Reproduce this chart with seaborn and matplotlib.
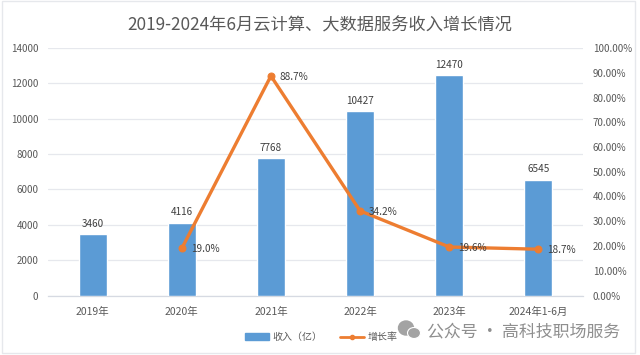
import matplotlib
matplotlib.use("Agg")
import matplotlib.pyplot as plt
from matplotlib.lines import Line2D
from matplotlib.patches import Patch, Ellipse, Rectangle
import seaborn as sns
import pandas as pd
import numpy as np

sns.set_style("white")
plt.rcParams['font.family'] = ['Noto Sans CJK SC', 'DejaVu Sans']

categories = ["2019年", "2020年", "2021年", "2022年", "2023年", "2024年1-6月"]
revenue = [3460, 4116, 7768, 10427, 12470, 6545]
growth = [np.nan, 19.0, 88.7, 34.2, 19.6, 18.7]
title = "2019-2024年6月云计算、大数据服务收入增长情况"
bar_name = "收入（亿）"
line_name = "增长率"
watermark = "公众号 · 高科技职场服务"

BLUE = "#5b9bd5"
ORANGE = "#ed7d31"
TXT = "#595959"
W, H = 640, 355

df = pd.DataFrame({"cat": categories, "rev": revenue, "g": growth})

fig = plt.figure(figsize=(6.4, 3.55), dpi=100, facecolor="white")
ax = fig.add_axes([48/W, 1-295.5/H, (583-48)/W, (295.5-48)/H])
ax.set_facecolor("white")
sns.barplot(data=df, x="cat", y="rev", color=BLUE, saturation=1, width=0.315, ax=ax, zorder=3)
ax.set_xlim(-0.5, 5.5)
ax.set_ylim(0, 14000)
ax.set_yticks(range(0, 14001, 2000))
ax.set_xlabel("")
ax.set_ylabel("")
ax.grid(axis="y", color="#e6e8ed", lw=0.9, zorder=0)
ax.tick_params(axis="y", length=0, labelsize=7, labelcolor=TXT, pad=7)
ax.tick_params(axis="x", length=0, labelsize=7.5, labelcolor=TXT, pad=8.5)
for s in ["top", "right", "left"]:
    ax.spines[s].set_visible(False)
ax.spines["bottom"].set_color("#d6dae2")
ax.spines["bottom"].set_linewidth(0.9)
for i, v in enumerate(revenue):
    ax.text(i, v + 300, str(v), ha="center", va="bottom", fontsize=7.2, color="#404040", zorder=6)

ax2 = ax.twinx()
sns.lineplot(data=df, x="cat", y="g", color=ORANGE, lw=2.4, marker="o", ms=5, mec=ORANGE, ax=ax2, zorder=5)
ax2.set_ylim(0, 100)
ax2.set_yticks(range(0, 101, 10))
ax2.set_yticklabels([f"{v}.00%" for v in range(0, 101, 10)])
ax2.set_xlabel("")
ax2.set_ylabel("")
ax2.grid(False)
ax2.tick_params(axis="y", length=0, labelsize=7, labelcolor=TXT, pad=7)
for s in ax2.spines.values():
    s.set_visible(False)
for i, v in enumerate(growth):
    if not np.isnan(v):
        ax2.annotate(f"{v}%", (i, v), xytext=(6.5, -0.5), textcoords="offset points", ha="left", va="center", fontsize=7.2, color="#404040", zorder=7)

fig.text(0.5, 1-25/H, title, ha="center", va="center", fontsize=12.4, color=TXT)

handles = [Patch(color=BLUE, label=bar_name),
           Line2D([], [], color=ORANGE, lw=2, marker="o", ms=3, label=line_name)]
fig.legend(handles=handles, loc="center", bbox_to_anchor=(321/W, 1-337/H), ncol=2, frameon=False,
           fontsize=7.2, labelcolor=TXT, handlelength=2.4, handleheight=0.7, handletextpad=0.35,
           columnspacing=1.8, borderpad=0)

# faint frame of the source picture
fig.add_artist(Rectangle((2/W, 1-353/H), 633/W, 352/H, transform=fig.transFigure, fill=False, ec="#e6e8ec", lw=1))

# watermark
GREY = "#a3a3a3"
fig.add_artist(Ellipse((406/W, 1-328/H), 15/W, 14/H, transform=fig.transFigure, color=GREY, zorder=8))
fig.add_artist(Ellipse((414/W, 1-333/H), 13/W, 11/H, transform=fig.transFigure, color=GREY, ec="white", lw=0.8, zorder=9))
fig.text(620/W, 1-331/H, watermark, ha="right", va="center", fontsize=12.2, color="#8f8f8f", zorder=10)
fig.savefig("out.png", dpi=100, facecolor=fig.get_facecolor())
